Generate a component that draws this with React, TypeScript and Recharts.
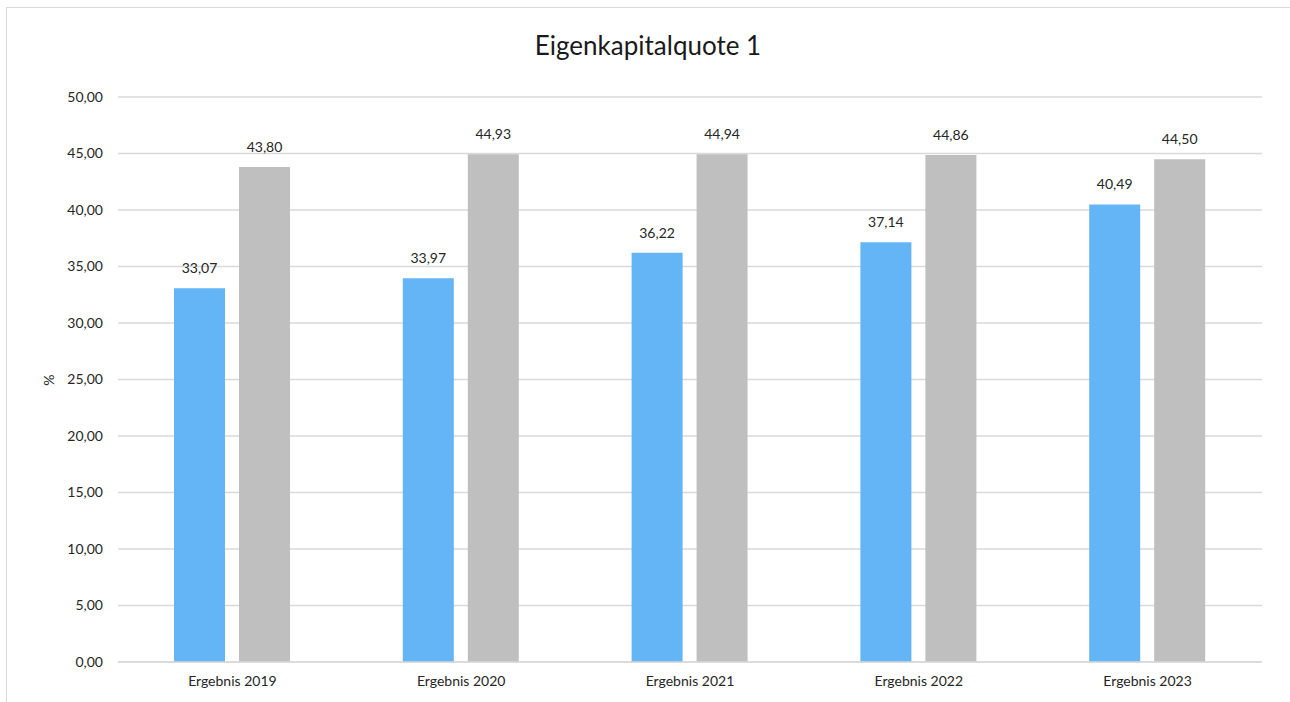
import { BarChart, Bar, XAxis, YAxis, CartesianGrid, LabelList } from "recharts"

const categories = ["Ergebnis 2019", "Ergebnis 2020", "Ergebnis 2021", "Ergebnis 2022", "Ergebnis 2023"]
const quoteValues = [33.07, 33.97, 36.22, 37.14, 40.49]
const compareValues = [43.8, 44.93, 44.94, 44.86, 44.5]
const yTicks = [0, 5, 10, 15, 20, 25, 30, 35, 40, 45, 50]

const data = categories.map((name, i) => ({
  name,
  quote: quoteValues[i],
  compare: compareValues[i]
}))

const fmt = (v: number) => v.toFixed(2).replace(".", ",")
const font = "Lato, 'Noto Sans', sans-serif"

export default function App() {
  return (
    <div style={{ position: "absolute", left: 0, top: 0, width: 1290, height: 702, background: "#fff", fontFamily: font, overflow: "hidden" }}>
      <div style={{ position: "absolute", left: 6, top: 7, width: 1290, height: 702, borderTop: "1px solid #d9d9d9", borderLeft: "1px solid #d9d9d9" }} />
      <div style={{ position: "absolute", left: 0, top: 29, width: 1296, textAlign: "center", fontSize: 26, color: "#1a1a1a" }}>
        Eigenkapitalquote 1
      </div>

      <BarChart
        width={1290}
        height={702}
        data={data}
        margin={{ top: 97, right: 28, bottom: 0, left: 0 }}
        barSize={51}
        barGap={14}
        style={{ position: "absolute", left: 0, top: 0 }}
      >
        <CartesianGrid vertical={false} stroke="#d9d9d9" strokeWidth={1.3} />

        <XAxis
          dataKey="name"
          height={40}
          axisLine={{ stroke: "#d9d9d9", strokeWidth: 1.3 }}
          tickLine={false}
          tickSize={0}
          tickMargin={14}
          tick={{ fontSize: 14, fill: "#262626", fontFamily: font }}
        />

        <YAxis
          width={118}
          domain={[0, 50]}
          ticks={yTicks}
          tickFormatter={fmt}
          axisLine={false}
          tickLine={false}
          tickSize={0}
          tickMargin={15}
          tick={{ fontSize: 14, fill: "#262626", fontFamily: font }}
          label={{
            content: () => (
              <text x={48} y={380} transform="rotate(-90, 48, 380)" textAnchor="middle" dominantBaseline="central" fontSize={14} fill="#262626" fontFamily={font}>
                %
              </text>
            )
          }}
        />

        <Bar dataKey="quote" fill="#64b5f6" isAnimationActive={false}>
          <LabelList dataKey="quote" position="top" offset={15} formatter={(v: any) => fmt(Number(v))} style={{ fontSize: 14, fill: "#262626", fontFamily: font }} />
        </Bar>

        <Bar dataKey="compare" fill="#bfbfbf" isAnimationActive={false}>
          <LabelList dataKey="compare" position="top" offset={15} formatter={(v: any) => fmt(Number(v))} style={{ fontSize: 14, fill: "#262626", fontFamily: font }} />
        </Bar>
      </BarChart>
    </div>
  )
}
